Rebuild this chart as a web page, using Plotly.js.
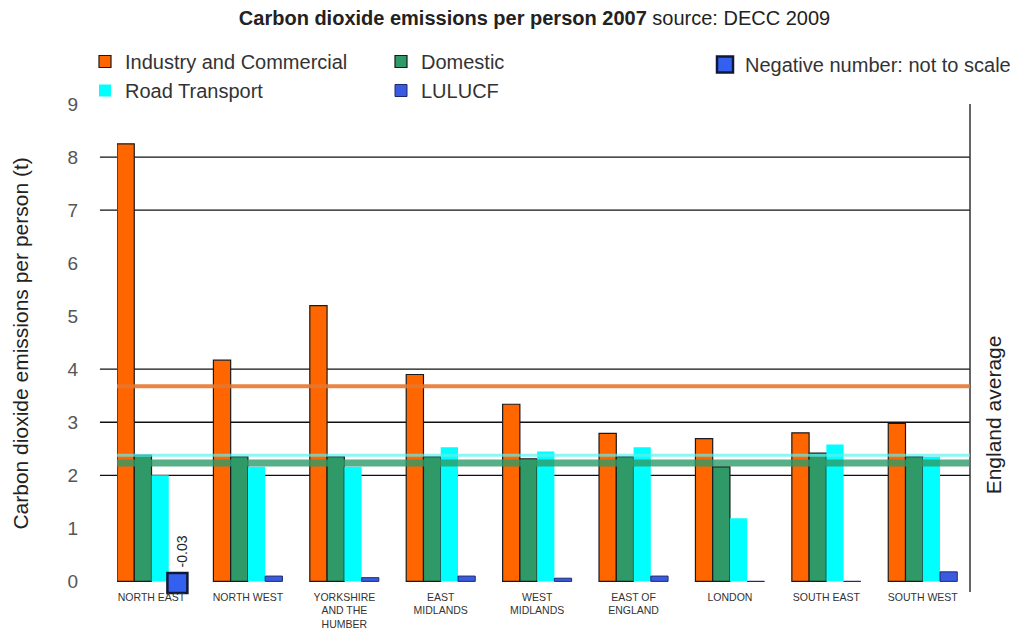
<!DOCTYPE html>
<html>
<head>
<meta charset="utf-8">
<script src="https://cdn.plot.ly/plotly-3.0.1.min.js"></script>
<style>
  html, body { margin: 0; padding: 0; background: #ffffff; }
  #chart { width: 1024px; height: 633px; }
</style>
</head>
<body>
<div id="chart"></div>
<script>
// Regions of England
const regions = [
  'NORTH EAST', 'NORTH WEST', 'YORKSHIRE<br>AND THE<br>HUMBER', 'EAST<br>MIDLANDS',
  'WEST<br>MIDLANDS', 'EAST OF<br>ENGLAND', 'LONDON', 'SOUTH EAST', 'SOUTH WEST'
];

// CO2 emissions per person, 2007 (tonnes)
const industry = [8.25, 4.17, 5.20, 3.90, 3.34, 2.79, 2.69, 2.80, 2.98];
const domestic = [2.38, 2.35, 2.35, 2.35, 2.31, 2.35, 2.16, 2.42, 2.35];
const road     = [2.00, 2.16, 2.16, 2.53, 2.45, 2.53, 1.19, 2.58, 2.35];
const lulucf   = [-0.03, 0.10, 0.07, 0.10, 0.06, 0.10, 0.00, 0.00, 0.18];

// England averages
const avgIndustry = 3.68;
const avgDomestic = 2.23;
const avgRoad = 2.38;

// Horizontal rules across the plot
const gridValues = [2, 3, 4, 7, 8];

const idx = regions.map((_, i) => i);
const FONT = 'Liberation Sans, Arial, sans-serif';

const orange = '#ff6600';
const green = '#2f9a68';
const cyan = '#00ffff';
const blue = '#3a5be0';

// Bar geometry: 4 bars per group
const bargap = 0.284;
const barW = (1 - bargap) / 4;
const lulucfOffset = 1.5 * barW;

// Negative values: drawn with an enlarged indicator
const negIdx = idx.filter(i => lulucf[i] < 0);

const traces = [
  { type: 'bar', name: 'Industry and Commercial', x: idx, y: industry,
    marker: { color: orange, line: { color: '#1a1a1a', width: 1.2 } },
    legend: 'legend', legendgroup: 'a', hoverinfo: 'y' },
  { type: 'bar', name: 'Domestic', x: idx, y: domestic,
    marker: { color: green, line: { color: '#1a1a1a', width: 1.2 } },
    legend: 'legend2', legendgroup: 'b', hoverinfo: 'y' },
  { type: 'bar', name: 'Road Transport', x: idx, y: road,
    marker: { color: cyan, line: { width: 0 } },
    legend: 'legend', legendgroup: 'c', hoverinfo: 'y' },
  { type: 'bar', name: 'LULUCF', x: idx, y: lulucf,
    marker: { color: blue, line: { color: '#1c2a70', width: 1 } },
    legend: 'legend2', legendgroup: 'd', hoverinfo: 'y' },
  { type: 'scatter', mode: 'markers', name: 'Negative number: not to scale',
    x: negIdx.map(i => i + lulucfOffset), y: negIdx.map(i => lulucf[i]),
    marker: { symbol: 'square', size: 20, color: '#3460f0',
              line: { color: '#101838', width: 2.5 } },
    legend: 'legend3', hoverinfo: 'y', cliponaxis: false }
];

const shapes = [];
gridValues.forEach(v => shapes.push({
  type: 'line', xref: 'paper', yref: 'y', x0: -0.02, x1: 1, y0: v, y1: v,
  line: { color: '#111111', width: 1.3 }, layer: 'below'
}));
// right frame line
shapes.push({ type: 'line', xref: 'paper', yref: 'paper', x0: 1, x1: 1, y0: 0, y1: 1,
  line: { color: '#333333', width: 1.5 } });
// England average lines
shapes.push({ type: 'line', xref: 'paper', yref: 'y', x0: 0, x1: 1, y0: avgIndustry, y1: avgIndustry,
  line: { color: '#e8772e', width: 4 }, opacity: 0.9, layer: 'above' });
shapes.push({ type: 'line', xref: 'paper', yref: 'y', x0: 0, x1: 1, y0: avgDomestic, y1: avgDomestic,
  line: { color: '#2f9a68', width: 7 }, opacity: 0.8, layer: 'above' });
shapes.push({ type: 'line', xref: 'paper', yref: 'y', x0: 0, x1: 1, y0: avgRoad, y1: avgRoad,
  line: { color: '#5ff0f0', width: 3 }, opacity: 0.7, layer: 'above' });

const annotations = [
  { xref: 'paper', yref: 'paper', x: 1, xshift: 37, y: 0.363, text: 'England average',
    textangle: -90, showarrow: false, font: { family: FONT, size: 21, color: '#222' } },
  { xref: 'paper', yref: 'paper', x: 0, xshift: -110, y: 0.508,
    text: 'Carbon dioxide emissions per person (t)',
    textangle: -90, showarrow: false, font: { family: FONT, size: 21, color: '#222' } }
];
negIdx.forEach(i => annotations.push({
  x: i + lulucfOffset, xshift: 5, y: lulucf[i], yshift: 32, text: lulucf[i].toFixed(2),
  textangle: -90, showarrow: false, font: { family: FONT, size: 14, color: '#222' }
}));

const legendFont = { family: FONT, size: 20, color: '#333' };

const layout = {
  width: 1024, height: 633,
  margin: { l: 117, r: 54, t: 104, b: 41, autoexpand: false },
  paper_bgcolor: '#ffffff', plot_bgcolor: 'rgba(0,0,0,0)',
  title: {
    text: '<b>Carbon dioxide emissions per person 2007</b> source: DECC 2009',
    font: { family: FONT, size: 20, color: '#222' },
    xref: 'container', x: 0.522, xanchor: 'center',
    yref: 'container', y: 0.972, yanchor: 'middle'
  },
  barmode: 'group', bargap: bargap, bargroupgap: 0,
  xaxis: {
    range: [-0.358, 8.49], tickvals: idx, ticktext: regions,
    showgrid: false, zeroline: false, showline: false, ticks: '',
    ticklabelstandoff: -3,
    tickfont: { family: FONT, size: 10.5, color: '#333' }, tickangle: 0,
    automargin: false
  },
  yaxis: {
    range: [-0.2, 9], tickvals: [0, 1, 2, 3, 4, 5, 6, 7, 8, 9],
    showgrid: false, zeroline: false, showline: false, ticks: '',
    ticklabelstandoff: 38,
    tickfont: { family: FONT, size: 19, color: '#555' }, automargin: false
  },
  showlegend: true,
  legend: { x: 85 / 1024, xref: 'container', xanchor: 'left',
    y: 1 - 42 / 633, yref: 'container', yanchor: 'top',
    orientation: 'v', font: legendFont, bgcolor: 'rgba(0,0,0,0)', tracegroupgap: 0,
    itemclick: false },
  legend2: { x: 381 / 1024, xref: 'container', xanchor: 'left',
    y: 1 - 42 / 633, yref: 'container', yanchor: 'top',
    orientation: 'v', font: legendFont, bgcolor: 'rgba(0,0,0,0)', tracegroupgap: 0,
    itemclick: false },
  legend3: { x: 705 / 1024, xref: 'container', xanchor: 'left',
    y: 1 - 45 / 633, yref: 'container', yanchor: 'top',
    orientation: 'v', font: legendFont, bgcolor: 'rgba(0,0,0,0)', itemclick: false },
  shapes: shapes,
  annotations: annotations
};

Plotly.newPlot('chart', traces, layout, { displayModeBar: false, staticPlot: true });
</script>
</body>
</html>
